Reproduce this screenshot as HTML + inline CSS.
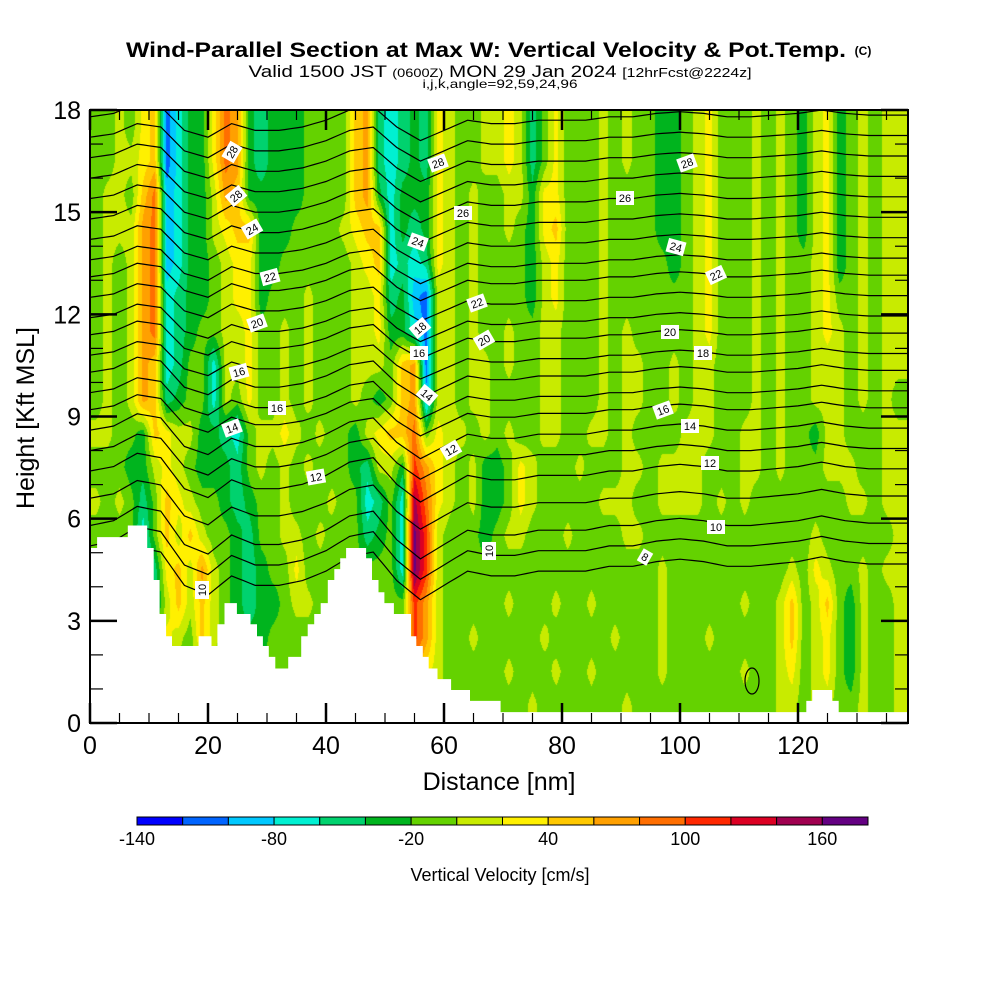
<!DOCTYPE html>
<html><head><meta charset="utf-8">
<style>
html,body{margin:0;padding:0;background:#fff;width:1000px;height:1000px;overflow:hidden}
#wrap{position:relative;width:1000px;height:1000px}
canvas{position:absolute;left:90px;top:110px}
svg{position:absolute;left:0;top:0}
text{font-family:"Liberation Sans",sans-serif}
</style></head>
<body>
<div id="wrap">
<canvas id="field" width="818" height="613"></canvas>
<svg id="svg" width="1000" height="1000">
<defs><clipPath id="plotclip"><rect x="90" y="110" width="818" height="613"/></clipPath></defs>
<g id="contours" clip-path="url(#plotclip)"></g>
<g id="terrain" clip-path="url(#plotclip)"></g>
<g id="clabels"></g>
<g id="axes"></g>
<text x="486" y="57" font-size="21" font-weight="bold" text-anchor="middle" textLength="720" lengthAdjust="spacingAndGlyphs">Wind-Parallel Section at Max W: Vertical Velocity &amp; Pot.Temp.</text>
<text x="863" y="55" font-size="12" font-weight="bold" text-anchor="middle">(C)</text>
<text x="500" y="77" font-size="17" text-anchor="middle" textLength="503" lengthAdjust="spacingAndGlyphs">Valid 1500 JST <tspan font-size="12">(0600Z)</tspan> MON 29 Jan 2024 <tspan font-size="13">[12hrFcst@2224z]</tspan></text>
<text x="500" y="88" font-size="12" text-anchor="middle" textLength="155" lengthAdjust="spacingAndGlyphs">i,j,k,angle=92,59,24,96</text>
<text x="499" y="790" font-size="25" text-anchor="middle">Distance [nm]</text>
<text x="0" y="0" font-size="25" text-anchor="middle" transform="translate(34,418) rotate(-90)">Height [Kft MSL]</text>
<g id="cbar"></g>
<text x="500" y="881" font-size="18" text-anchor="middle">Vertical Velocity [cm/s]</text>
</svg>
</div>
<script>
// ---- data ----
const colors = ["#0000ff","#0064ff","#00c8ff","#00f0d2","#00d26e","#00b41e","#64d200","#c8eb00","#fff000","#ffc800","#ffa000","#ff6e00","#ff2800","#dc0023","#a00050","#640082"];
const cbarTicks = [-140,-80,-20,40,100,160];
const xTicks = [0,20,40,60,80,100,120];
const yTicks = [0,3,6,9,12,15,18];
// velocity class index grid (hex digit = colour class), 2 nm columns x 1 kft rows, top row = 17-18 kft
const wRows = [
"6676891355 8ba5455566 669a434548 7667787468 6667676655 6786667676 578567677",
"6677891355 8ba5455566 669a434548 7667787468 6667676655 6786667676 578567677",
"67769b2355 7a95555566 669a535558 7676677588 6667666655 6786667676 578567677",
"6777ab2355 7899555666 6789935458 7676676589 6667666655 6786667676 578567677",
"6767ab2355 6788556666 6678934348 7676666578 6667666665 6786667676 678567677",
"6767ab3455 6788566676 6677845217 7676666578 6667666666 6786667676 678667677",
"6767ab3456 6778667676 6677855317 7676676677 6667676666 6786667676 678767677",
"6767a93466 3778667676 6677769a17 7677676677 6667677667 6776667676 677767677",
"6767a94566 3768667676 6676569a27 7677666677 6667677667 6776667676 677767676",
"7766598775 5436778767 6657899b68 7767676677 6677676666 7776677676 657766677",
"6665578765 5546767676 6654775ca8 7675568766 6766677677 7766677676 667776677",
"7676469876 6545667666 7663463eb8 7675568766 6667776677 7767676666 666677677",
"6666369797 6654667767 6664563fc7 6665677666 7666677666 6666666666 676666667",
"666634897a 7654566866 6666663fc7 6666666666 6666666676 6666666667 687667677",
"6666647979 7654556776 6666666ca7 6666676667 6676666676 6666676679 679657667",
"6666668769 7655566666 6666666ca7 6676666676 6666766676 6676666679 678657667",
"6666666666 6666666666 6666666a87 6666676667 6676666676 6666676678 678657667",
"6666666666 6666666666 6666666987 6666666766 6666676666 6666666677 677667667"
];
// terrain: segment end (nm) and height (kft)
const terrainEnd = [1.2,6.4,9.7,10.8,11.8,12.9,13.9,18.4,20.6,21.6,22.8,24.9,27.2,28.3,29.3,30.3,31.4,33.6,35.8,36.9,38.0,39.1,40.3,41.4,42.4,43.4,46.8,47.8,48.9,49.9,51.5,54.4,55.3,56.4,57.4,58.9,61.2,64.4,69.6,121.4,122.4,125.8,126.9,139];
const terrainH   = [5.14,5.46,5.8,5.14,4.2,3.2,2.55,2.26,2.55,2.26,2.9,3.52,3.2,2.9,2.55,2.26,1.94,1.6,1.94,2.55,2.9,3.2,3.52,4.2,4.52,4.84,5.14,4.84,4.2,3.84,3.52,3.2,2.55,2.26,1.94,1.6,1.29,0.97,0.65,0.32,0.65,0.97,0.65,0.32];
// potential temperature contours
const thetaLevels = [8,9,10,11,12,13,14,15,16,17,18,19,20,21,22,23,24,25,26,27,28,29,30];
const thetaBase   = [4.6,5.2,5.8,6.6,7.4,8.0,8.6,9.2,9.7,10.3,10.8,11.4,11.9,12.5,13.1,13.6,14.2,14.8,15.4,16.0,16.6,17.2,17.8];
const thetaAmp    = [1.4,1.4,1.4,1.3,1.3,1.2,1.2,1.1,1.1,1.1,1.0,1.0,1.0,1.0,1.0,1.0,1.0,1.0,1.0,1.0,1.0,1.0,1.0];
const waveX = [0,4,8,12,16,20,24,28,32,36,40,44,48,52,56,60,64,68,72,76,80,84,88,92,96,100,104,108,112,116,120,124,128,132,136,140];
const waveD = [0,0.1,0.4,0.3,-0.4,-0.6,-0.2,-0.4,-0.4,-0.3,-0.1,0.2,0.3,-0.3,-0.7,-0.4,-0.1,-0.2,-0.2,-0.1,-0.1,-0.1,0,0,0.1,0.15,0.1,0,0,0.05,0.1,0.2,0.1,0.05,0.05,0.05];
const labelText = ["28","28","24","22","20","16","16","14","12","10","28","26","24","22","20","18","16","14","12","10","28","26","24","22","20","18","16","14","12","10","8"];
const labelPx   = [232,236,252,270,257,239,277,232,316,202,438,463,418,477,484,420,419,427,451,489,687,625,676,716,670,703,663,690,710,716,645];
const labelPy   = [152,196,229,277,323,372,408,428,477,590,163,213,242,303,340,328,353,395,450,551,163,198,247,275,332,353,410,426,463,527,557];
const labelRot  = [-60,-40,-30,-15,-20,-15,0,-20,-10,-90,-20,0,20,-20,-30,-40,0,40,-30,-90,-20,0,15,-25,0,0,-20,0,0,0,30];

// ---- scales ----
const X0=90, Y0=110, W=818, H=613, PXNM=5.9, PYK=H/18;
const sx = nm => X0 + nm*PXNM;
const sy = k => Y0 + H - k*PYK;
const NS = "http://www.w3.org/2000/svg";
function mk(tag, attrs, parent){const e=document.createElementNS(NS,tag);for(const k in attrs)e.setAttribute(k,attrs[k]);parent.appendChild(e);return e;}

// ---- field ----
const grid = wRows.map(s=>s.replace(/ /g,'').split('').map(c=>parseInt(c,16)));
const NR = grid.length, NC = grid[0].length;
const rgb = colors.map(c=>[parseInt(c.substr(1,2),16),parseInt(c.substr(3,2),16),parseInt(c.substr(5,2),16)]);
(function(){
  const cv=document.getElementById('field'), ctx=cv.getContext('2d');
  const img=ctx.createImageData(W,H), d=img.data;
  for(let py=0;py<H;py++){
    const k = 18 - (py+0.5)/PYK;
    let r = (18-k) - 0.5; r=Math.max(0,Math.min(NR-1,r));
    const r0=Math.floor(r), r1=Math.min(r0+1,NR-1), fr=r-r0;
    for(let px=0;px<W;px++){
      const nm=(px+0.5)/PXNM;
      let c=nm/2-0.5; c=Math.max(0,Math.min(NC-1,c));
      const c0=Math.floor(c), c1=Math.min(c0+1,NC-1), fc=c-c0;
      const v=(grid[r0][c0]*(1-fc)+grid[r0][c1]*fc)*(1-fr)+(grid[r1][c0]*(1-fc)+grid[r1][c1]*fc)*fr;
      let idx=Math.round(v-0.1); idx=Math.max(0,Math.min(15,idx));
      const o=(py*W+px)*4, col=rgb[idx];
      d[o]=col[0];d[o+1]=col[1];d[o+2]=col[2];d[o+3]=255;
    }
  }
  ctx.putImageData(img,0,0);
})();

// ---- contours ----
function wave(nm){
  for(let i=0;i<waveX.length-1;i++){
    if(nm<=waveX[i+1]){const t=(nm-waveX[i])/(waveX[i+1]-waveX[i]);return waveD[i]*(1-t)+waveD[i+1]*t;}
  }
  return waveD[waveD.length-1];
}
const cg=document.getElementById('contours');
thetaLevels.forEach((lev,i)=>{
  const pts=[];
  for(let nm=0;nm<=139;nm+=1){pts.push(sx(nm).toFixed(1)+','+sy(thetaBase[i]+thetaAmp[i]*wave(nm)).toFixed(1));}
  const pl=mk('polyline',{points:pts.join(' '),fill:'none',stroke:'#000','stroke-width':'1.2'},cg);
  
  
});
const loop=mk('ellipse',{cx:752,cy:681,rx:7,ry:13,fill:'none',stroke:'#000','stroke-width':'1.2'},cg);



// ---- terrain ----
(function(){
  let p='M'+sx(0)+','+sy(0);let prev=0;
  for(let i=0;i<terrainEnd.length;i++){
    p+=' L'+sx(prev).toFixed(1)+','+sy(terrainH[i]).toFixed(1)+' L'+sx(terrainEnd[i]).toFixed(1)+','+sy(terrainH[i]).toFixed(1);
    prev=terrainEnd[i];
  }
  p+=' L'+sx(prev)+','+sy(0)+' Z';
  const t=mk('path',{d:p,fill:'#fff',stroke:'none'},document.getElementById('terrain'));
  
  
})();

// ---- contour labels ----
const lg=document.getElementById('clabels');
labelText.forEach((s,i)=>{
  const g=mk('g',{transform:'translate('+labelPx[i]+','+labelPy[i]+') rotate('+labelRot[i]+')'},lg);
  
  
  const w=s.length*7+4;
  mk('rect',{x:-w/2,y:-7,width:w,height:14,fill:'#fff'},g);
  const t=mk('text',{x:0,y:4,'font-size':'11','text-anchor':'middle'},g);
  t.textContent=s;
});

// ---- axes ----
const ag=document.getElementById('axes');
const frame=mk('rect',{x:X0,y:Y0,width:W,height:H,fill:'none',stroke:'#000','stroke-width':'2'},ag);


for(let k=0;k<=18;k++){
  const maj=(k%3===0), L=maj?27:13, sw=maj?2.5:1.2, y=sy(k);
  mk('line',{x1:X0,y1:y,x2:X0+L,y2:y,stroke:'#000','stroke-width':sw},ag);
  mk('line',{x1:X0+W-L,y1:y,x2:X0+W,y2:y,stroke:'#000','stroke-width':sw},ag);
}
for(let nm=0;nm<=135;nm+=5){
  const maj=(nm%20===0), L=maj?20:10, sw=maj?2.5:1.2, x=sx(nm);
  mk('line',{x1:x,y1:Y0+H,x2:x,y2:Y0+H-L,stroke:'#000','stroke-width':sw},ag);
  mk('line',{x1:x,y1:Y0,x2:x,y2:Y0+L,stroke:'#000','stroke-width':sw},ag);
}
yTicks.forEach(v=>{
  const t=mk('text',{x:81,y:sy(v)+9,'font-size':'25','text-anchor':'end'},ag);
  
  
  t.textContent=v;
});
xTicks.forEach(v=>{
  const t=mk('text',{x:sx(v),y:754,'font-size':'25','text-anchor':'middle'},ag);
  
  
  t.textContent=v;
});

// ---- colorbar ----
const cb=document.getElementById('cbar');
const CBX=137, CBW=731/16;
colors.forEach((c,i)=>{
  const r=mk('rect',{x:CBX+i*CBW,y:817,width:CBW,height:8,fill:c,stroke:'#000','stroke-width':'1'},cb);
  
  
});
cbarTicks.forEach(v=>{
  const t=mk('text',{x:CBX+(v+140)/20*CBW,y:845,'font-size':'18','text-anchor':'middle'},cb);
  
  
  t.textContent=v;
});
</script>
</body></html>
